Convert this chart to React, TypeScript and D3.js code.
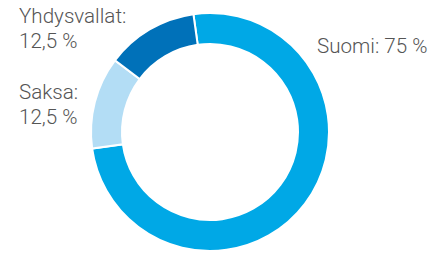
import React from 'react'
import * as d3 from 'd3'

const countries = ['Suomi', 'Saksa', 'Yhdysvallat']
const shares = [75, 12.5, 12.5]
const shareLabels = ['75 %', '12,5 %', '12,5 %']
const colors = ['#00a8e6', '#b3ddf5', '#0071b9']

export default function App() {
  const width = 432,
    height = 253,
    cx = 210,
    cy = 132,
    outer = 119,
    inner = 88

  const pie = d3.pie<number>()
    .sort(null)
    .startAngle(-0.14)
    .endAngle(-0.14 + Math.PI * 2)

  const arc = d3.arc<d3.PieArcDatum<number>>()
    .innerRadius(inner)
    .outerRadius(outer)

  const arcs = pie(shares)

  const textStyle = {
    fontFamily: 'Roboto, "Liberation Sans", sans-serif',
    fontWeight: 300,
    fontSize: 20.6,
    fill: '#555',
  }

  return (
    <svg width={width} height={height} style={{position: 'absolute', left: 0, top: 0}}>
      <g transform={`translate(${cx},${cy})`}>
        {arcs.map((a, idx) => (
          <path key={idx} d={arc(a) || ''} fill={colors[idx]} stroke="#fff" strokeWidth={2} />
        ))}
      </g>
      <text x={317} y={53} style={textStyle}>{countries[0]}: {shareLabels[0]}</text>
      <text x={19} y={99} style={textStyle}>{countries[1]}:</text>
      <text x={19} y={124} style={textStyle}>{shareLabels[1]}</text>
      <text x={19} y={23} style={textStyle}>{countries[2]}:</text>
      <text x={19} y={48} style={textStyle}>{shareLabels[2]}</text>
    </svg>
  )
}
